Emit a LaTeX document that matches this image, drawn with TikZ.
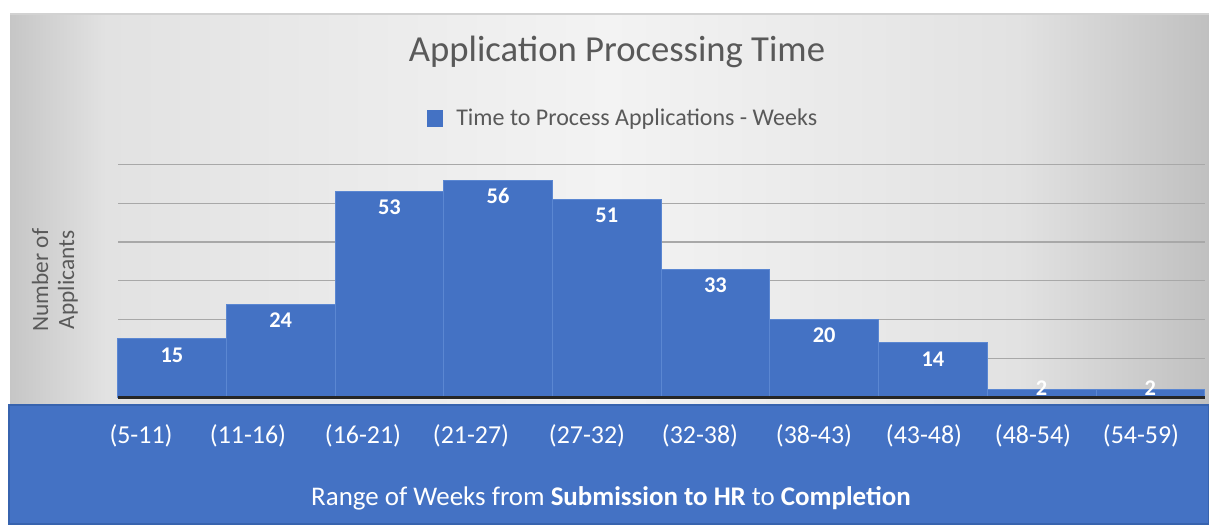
\documentclass[tikz,border=0pt]{standalone}
\usepackage{fontspec}
\setmainfont{Carlito}
\definecolor{barblue}{HTML}{4472C4}
\definecolor{baredge}{HTML}{5B87D2}
\definecolor{boxedge}{HTML}{3763AE}
\definecolor{gridc}{HTML}{A8A8A8}
\definecolor{txtgray}{HTML}{595959}
\definecolor{cL}{HTML}{C6C6C6}
\definecolor{cM}{HTML}{E2E2E2}
\definecolor{cC}{HTML}{F3F3F3}
\definecolor{cR}{HTML}{C0C0C0}
\pgfdeclarehorizontalshading{bgshade}{100bp}{color(0bp)=(cL); color(25bp)=(cL); color(29bp)=(cM); color(50bp)=(cC); color(67bp)=(cM); color(75bp)=(cR); color(100bp)=(cR)}
\tikzset{
  titlefont/.style={font=\fontsize{27.5}{32}\selectfont, text=txtgray, inner sep=0pt},
  legendfont/.style={font=\fontsize{18}{21}\selectfont, text=txtgray, inner sep=0pt},
  ylabfont/.style={font=\fontsize{17.5}{19.5}\selectfont, text=txtgray, inner sep=0pt, align=center},
  datalbl/.style={font=\bfseries\fontsize{16.8}{19}\selectfont, text=white, inner sep=0pt},
  ticklbl/.style={font=\fontsize{19.4}{22}\selectfont, text=white, inner sep=0pt},
  axtitle/.style={font=\fontsize{20.2}{23}\selectfont, text=white, inner sep=0pt},
  barstyle/.style={fill=barblue, draw=baredge, line width=0.6pt},
  gridline/.style={draw=gridc, line width=1.1pt},
}
\begin{document}
\begin{tikzpicture}[x=0.75pt,y=-0.75pt]
\useasboundingbox (0,0) rectangle (1209,525);
\fill[white] (0,0) rectangle (1209,525);
% chart background
\shade[shading=bgshade] (10,14) rectangle (1209,404);
\draw[draw=gray!35, line width=0.8pt] (10,14) -- (1209,14);
% grid lines
\foreach \k in {1,...,6} {
  \draw[gridline] (118,{397-38.75*\k}) -- (1205,{397-38.75*\k});
}
% bars and data labels
\foreach \v [count=\i from 0] in {15,24,53,56,51,33,20,14,2,2} {
  \draw[barstyle] ({117.6+108.7*\i},397) rectangle ++(108.7,{-3.875*\v});
  \ifnum\v>5
    \node[datalbl] (val\i) at ({117.6+108.7*\i+54.35},{397-3.875*\v+16}) {\v};
  \else
    \node[datalbl] (val\i) at ({117.6+108.7*\i+54.35},388) {\v};
  \fi
}
% baseline
\draw[draw=black!85, line width=2.2pt] (118,397.5) -- (1205,397.5);
% bottom blue box
\draw[fill=barblue, draw=boxedge, line width=1.5pt] (9,405) rectangle (1208.5,524);
% tick labels
\foreach \t/\x [count=\i] in {5-11/141,11-16/248,16-21/363,21-27/471,27-32/587,32-38/700,38-43/814,43-48/924,48-54/1033,54-59/1141} {
  \node[ticklbl] (tick\i) at (\x,436) {(\t)};
}
\node[axtitle] (xtitle) at (611,498) {Range of Weeks from \textbf{Submission to HR} to \textbf{Completion}};
% title and legend
\node[titlefont] (title) at (617,52) {Application Processing Time};
\fill[barblue] (427,110) rectangle (443,127);
\node[legendfont, anchor=west] (legend) at (456,119) {Time to Process Applications - Weeks};
% y label
\node[ylabfont, rotate=90] (ylab) at (55,280) {Number of\\Applicants};
\end{tikzpicture}
\end{document}
